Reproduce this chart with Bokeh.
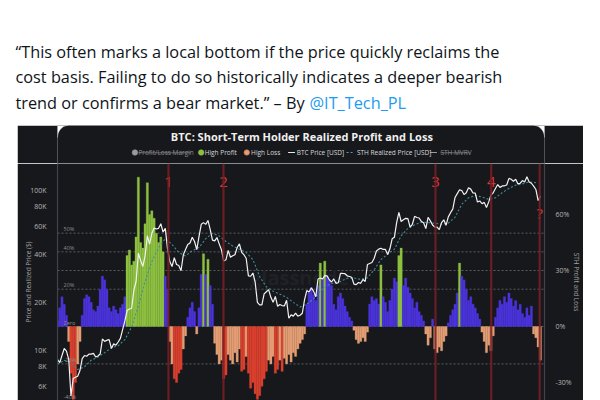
from datetime import datetime
import numpy as np
import pandas as pd
from bokeh.plotting import figure
from bokeh.models import (Range1d, LinearAxis, LinearScale, FixedTicker, Span, Spacer,
                          PrintfTickFormatter)
from bokeh.layouts import column, row
from bokeh.embed import file_html
from bokeh.resources import INLINE
from bokeh.core.properties import value

# ---------------- data ----------------
tweet_lines = [
    "\u201cThis often marks a local bottom if the price quickly reclaims the",
    "cost basis. Failing to do so historically indicates a deeper bearish",
    "trend or confirms a bear market.\u201d \u2013 By ",
]
tweet_handle = "@IT_Tech_PL"
chart_title = "BTC: Short-Term Holder Realized Profit and Loss"
legend_labels = ["Profit/Loss Margin", "High Profit", "High Loss",
                 "BTC Price [USD]", "STH Realized Price [USD]", "STH MVRV"]

series_start = "2020-01-14"   # one value every 10 days
margin_pct = [
    3, 10, 16, 12, 6, -8, -25, -39, -30, -20, -8,
    6, 15, 17, 16, 13, 9, 8, 11, 20, 27, 25, 20, 10, 8, 11, 9, 7, 10, 12, 16,
    38, 41, 33, 35, 48, 80, 45, 42, 55, 77, 60, 62, 58, 50, 45, 48, 40, 27, 20,
    -8, -20, -28, -30, -25, -23, -12, -5, 5, 10, 13, 8, -4, 10, 28, 39, 28, 36, 22, 12,
    -9, -15, -20, -18, -28, -26, -15, -18, -20, -14, -19, -12, -24, -23, -16, -25, -33,
    -30, -36, -39, -37, -32, -28, -24, -18, -20, -16, -25, -23, -18, -24, -17, -20, -15,
    -19, -14, -16, -12, -9, -7, -4,
    12, 18, 21, 17, 14, 22, 34, 26, 35, 27, 25, 22, 12, 9, 16, 18, 15, 11, 8, 5, 3, -2,
    -7, -9, -8, -6, -8, -3,
    12, 16, 14, 15, 12, 33, 16, 13, 8, 14, 20, 26, 24, 38, 42, 22, 26, 21, 18, 15, 10,
    13, 8, 6, 3, -4,
    -10, -6, 4, -12, -14, -11, -13, -8, -5, 2,
    6, 9, 12, 18, 34, 27, 25, 20, 14, 16, 12, 10, 7, 4, -3,
    -8, -14, -10, -13, -5,
    5, 10, 14, 12, 16, 13, 18, 15, 11, 14, 9, 12, 7, 5, 10, 6, 11,
    -4, -6, -11, -18,
]
btc_price = [
    8800, 8400, 9300, 10300, 9900, 8800, 5200, 6700, 6800, 6900,
    7500, 8900, 9300, 9200, 9500, 9500, 9600, 9100, 9250, 9500,
    11800, 11400, 11600, 11700, 10300, 11000, 10800, 11300, 11900, 13500,
    15300, 17800, 18200, 18300, 23800, 27100, 40600, 36600, 33500, 39000,
    52100, 46200, 54000, 58300, 57500, 58000, 62000, 55000, 58000, 43000,
    36000, 33500, 38000, 34500, 34000, 31500, 39500, 42800, 46000, 47000,
    51000, 48000, 42700, 51500, 61500, 63000, 61400, 65000, 57000, 49000,
    48400, 50800, 46400, 42600, 36300, 36900, 42200, 38300, 39100, 39700,
    44000, 46400, 41100, 39700, 37700, 29300, 29100, 30500, 26800, 20000,
    19300, 19300, 22600, 23300, 24000, 21500, 20000, 21800, 18900, 19400,
    19100, 19000, 20600, 15900, 16700, 16400, 17100, 16400, 16600, 17100,
    20800, 23700, 23200, 24600, 23500, 21700, 28000, 28400, 28000, 29400,
    29300, 27700, 26800, 28000, 26300, 26500, 30300, 30300, 30200, 29300,
    29000, 28700, 26000, 25800, 26600, 26300, 27800, 27000, 34500, 35000,
    35500, 37700, 41900, 43000, 43600, 42800, 42800, 39800, 43200, 49900,
    51000, 63000, 73000, 64000, 65600, 67000, 66800, 59100, 61500, 69000,
    67800, 67300, 64100, 62800, 57800, 68000, 64600, 60900, 59000, 59100,
    57000, 63000, 65600, 60600, 68400, 72700, 76500, 90500, 95600, 101000,
    100000, 94300, 96900, 104000, 102000, 96500, 96300, 84700, 86000, 82700,
    84300, 78300, 84900, 93700, 96800, 103000, 109000, 104500, 106800, 107000,
    108200, 119000, 117600, 114000, 117500, 110000, 111000, 115300, 113000, 122000,
    113000, 111000, 106500, 101500, 86500, 92000,
]
sth_start = "2020-01-14"      # one value every 30 days
sth_realized_price = [
    8200, 8700, 8400, 7600, 7900, 8700, 9100, 9700, 10400, 10700, 11700, 14000,
    19000, 27000, 36000, 44000, 50000, 46000, 41000, 39000, 42000, 44000, 50000, 54000,
    52000, 48000, 45000, 43000, 41000, 37000, 29000, 25000, 23500, 22500, 21500, 20000,
    18700, 19500, 21000, 23500, 25500, 26500, 27000, 28300, 28400, 27800, 28500, 32000,
    37000, 40000, 43000, 52000, 58000, 61000, 63500, 63000, 62500, 61500, 62500, 68000,
    82000, 90000, 93000, 91000, 88000, 90000, 97000, 103000, 108000, 110000, 113000, 112000,
]
event_dates = ["2021-05-22", "2022-01-22", "2024-08-23", "2025-04-28", "2025-11-30"]
event_labels = ["1", "2", "3", "4", "?"]
price_ticks = [6000, 8000, 10000, 20000, 40000, 60000, 80000, 100000]
price_tick_labels = ["6K", "8K", "10K", "20K", "40K", "60K", "80K", "100K"]
pct_ticks = [-30, 0, 30, 60]
band_levels = [50, 40, 30, 20, 0, -20, -40]
band_labels = ["50%", "40%", "", "20%", "Zero", "-20%", "-40%"]
high_profit_level = 30
high_loss_level = -22

# ---------------- style ----------------
CARD = "#17181c"
BLUE = "#4a33d8"
GREEN = "#8dc040"
ORANGE = "#e39e74"
RED = "#d8402e"
FONT = "Open Sans"

dates = pd.date_range(series_start, periods=len(margin_pct), freq="10D")
sth_dates = pd.date_range(sth_start, periods=len(sth_realized_price), freq="30D")


def bar_color(v):
    if v > high_profit_level:
        return GREEN
    if v >= 0:
        return BLUE
    if v >= high_loss_level:
        return ORANGE
    return RED


colors = [bar_color(v) for v in margin_pct]

# ---------------- tweet text ----------------
WA, HA = 600, 125
pa = figure(width=WA, height=HA, x_range=Range1d(0, WA), y_range=Range1d(HA, 0),
            toolbar_location=None, output_backend="svg", min_border=0,
            x_axis_location=None, y_axis_location=None,
            background_fill_color="white", border_fill_color="white", outline_line_color=None)
pa.grid.visible = False
pa.text(x=[15, 15, 15], y=[51, 76.5, 102], text=tweet_lines, text_font=value("Open Sans"),
        text_font_size="16.3px", text_color="#0f1419", text_baseline="alphabetic")
pa.text(x=[309], y=[102], text=[tweet_handle], text_font=value("Open Sans"),
        text_font_size="16.3px", text_color="#1d9bf0", text_baseline="alphabetic")

# ---------------- card header ----------------
WC = 566
HH = 38
ph = figure(width=WC, height=HH, x_range=Range1d(0, WC), y_range=Range1d(HH, 0),
            toolbar_location=None, output_backend="svg", min_border=0,
            x_axis_location=None, y_axis_location=None,
            background_fill_color=CARD, border_fill_color=CARD, outline_line_color=None)
ph.grid.visible = False
r = 12
th = np.linspace(-np.pi / 2, -np.pi, 12)
tl_x = [0] + list(r + r * np.cos(th))
tl_y = [0] + list(r + r * np.sin(th))
th2 = np.linspace(-np.pi / 2, 0, 12)
tr_x = [WC] + list(WC - r + r * np.cos(th2))
tr_y = [0] + list(r + r * np.sin(th2))
ph.patches(xs=[tl_x, tr_x], ys=[tl_y, tr_y], fill_color="white", line_color="white", line_width=0.5)

ph.text(x=[284], y=[10.5], text=[chart_title], text_font=value(FONT), text_font_size="11px",
        text_font_style="bold", text_color="#f0f0f0", text_align="center", text_baseline="middle")

ly = 27
ph.scatter(x=[90, 167, 220], y=[ly, ly, ly], size=5.5,
           fill_color=["#9a9a9a", GREEN, ORANGE], line_color=["#9a9a9a", GREEN, "#d0704a"], line_width=0.6)
ph.segment(x0=[268, 433], y0=[ly, ly], x1=[276, 441], y1=[ly, ly],
           line_color=["#e8e8e8", "#9a9a9a"], line_width=1)
ph.segment(x0=[336], y0=[ly], x1=[345], y1=[ly], line_color="#5aa0b0", line_width=1, line_dash="2 2")
ph.text(x=[94, 171, 225, 278, 348, 445], y=[ly] * 6, text=legend_labels,
        text_font=value(FONT), text_font_size="6.5px", text_baseline="middle",
        text_color=["#8a8a8a", "#d8d8d8", "#d8d8d8", "#d8d8d8", "#d8d8d8", "#8a8a8a"])
ph.segment(x0=[94, 445], y0=[ly + 0.3, ly + 0.3], x1=[155, 479], y1=[ly + 0.3, ly + 0.3],
           line_color="#8a8a8a", line_width=0.7)

# ---------------- main chart ----------------
HB = 237
x_start = datetime(2020, 1, 14)
x_end = datetime(2025, 12, 21, 8)
p = figure(width=WC, height=HB, x_axis_type="datetime", y_axis_type="log",
           x_range=Range1d(x_start, x_end), y_range=Range1d(4870, 147500),
           x_axis_location=None, y_axis_location="left",
           toolbar_location=None, output_backend="svg",
           min_border_left=40, min_border_right=39, min_border_top=0, min_border_bottom=0,
           background_fill_color=CARD, border_fill_color=CARD, outline_line_color=None)
p.grid.visible = False
p.extra_y_ranges = {"pct": Range1d(-39.6, 87.3)}
p.extra_y_scales = {"pct": LinearScale()}

# watermark
p.text(x=[datetime(2022, 5, 20)], y=[19], y_range_name="pct", text=["glassnode"],
       text_font=value(FONT), text_font_size="20px", text_font_style="bold",
       text_color="#202127", text_baseline="bottom")

for lev in band_levels:
    p.add_layout(Span(location=lev, dimension="width", y_range_name="pct",
                      line_color="#8a8a8a", line_alpha=0.75, line_width=0.8,
                      line_dash="2 2", level="underlay"))

p.vbar(x=dates, top=margin_pct, bottom=0, width=10 * 86400000, y_range_name="pct",
       fill_color=colors, line_color=colors, line_width=0.3)

p.text(x=[x_start] * len(band_levels), y=band_levels, y_range_name="pct", text=band_labels,
       x_offset=6, text_font=value(FONT), text_font_size="5.5px", text_color="#8d8d8d",
       text_baseline="bottom")

p.line(x=sth_dates, y=sth_realized_price, line_color="#3f8f9c", line_width=1.1, line_dash="2 2")
p.line(x=dates, y=btc_price, line_color="#f2f2f2", line_width=1.2)

ev = pd.to_datetime(event_dates)
for d in ev:
    p.add_layout(Span(location=d, dimension="height", line_color="#7a1f24",
                      line_alpha=0.85, line_width=2.2))
p.text(x=ev[:4], y=[77.5] * 4, y_range_name="pct", text=event_labels[:4],
       text_font=value(FONT), text_font_size="15px", text_color="#d63a3a",
       text_align="center", text_baseline="middle")
p.text(x=ev[4:], y=[61], y_range_name="pct", text=event_labels[4:],
       text_font=value(FONT), text_font_size="15px", text_color="#d63a3a",
       text_align="center", text_baseline="middle")

ax = p.yaxis[0]
ax.ticker = FixedTicker(ticks=price_ticks)
ax.major_label_overrides = dict(zip(price_ticks, price_tick_labels))
ax.axis_label = "Price and Realized Price ($)"

rax = LinearAxis(y_range_name="pct", ticker=FixedTicker(ticks=pct_ticks),
                 formatter=PrintfTickFormatter(format="%d%%"),
                 axis_label="STH Profit and Loss")
p.add_layout(rax, "right")

for a in (ax, rax):
    a.axis_line_color = "#3f434c"
    a.axis_line_width = 1.2
    a.major_tick_line_color = None
    a.minor_tick_line_color = None
    a.major_label_text_color = "#b4b4b4"
    a.major_label_text_font = FONT
    a.major_label_text_font_size = "7px"
    a.major_label_standoff = 5
    a.axis_label_text_font = FONT
    a.axis_label_text_font_size = "6.5px"
    a.axis_label_text_font_style = "normal"
    a.axis_label_text_color = "#a0a0a0"
ax.axis_label_standoff = -6
rax.axis_label_standoff = -3

layout = column(pa, row(Spacer(width=17, height=HH + HB), column(ph, p),
                        Spacer(width=17, height=HH + HB)))

open("out.html", "w").write(file_html(layout, INLINE))
